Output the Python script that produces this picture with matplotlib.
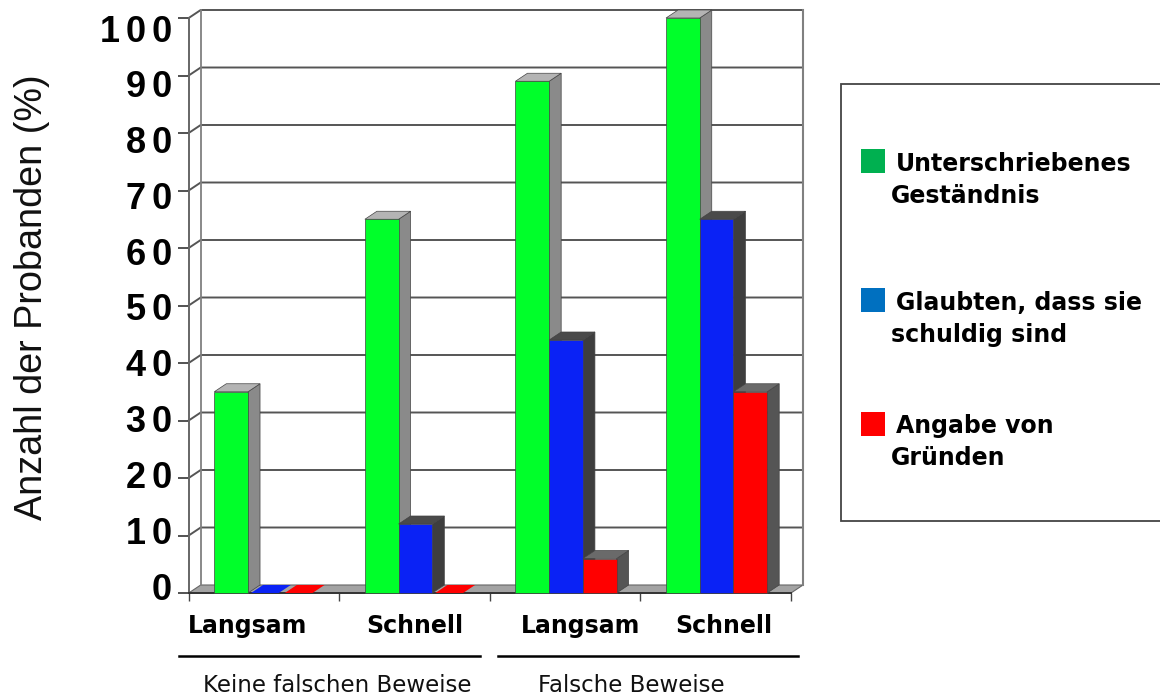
import matplotlib
matplotlib.use('Agg')
import matplotlib.pyplot as plt
from matplotlib.patches import Polygon, Rectangle
from matplotlib.lines import Line2D

# 数据
speed_labels = ['Langsam', 'Schnell', 'Langsam', 'Schnell']
group_labels = ['Keine falschen Beweise', 'Falsche Beweise']
y_ticks = [0, 10, 20, 30, 40, 50, 60, 70, 80, 90, 100]
gestaendnis = [35, 65, 89, 100]
schuldig = [0, 12, 44, 65]
gruende = [0, 0, 6, 35]
legend_labels = ['Unterschriebenes\nGeständnis', 'Glaubten, dass sie\nschuldig sind', 'Angabe von\nGründen']
legend_colors = ['#00b050', '#0070c0', '#ff0000']

W, H = 1160, 698
DX, DY = 12 / 150.5, 8 / 5.75   # 3D 深度 (数据单位)
BAR_W = 0.224
OFFSET = 0.17
LINE_C = '#666666'


def px(x, y):
    return x / W, 1 - y / H


def draw_bar(ax, x, h, front, top, side):
    w = BAR_W
    if h > 0:
        ax.add_patch(Polygon([(x + w, 0), (x + w + DX, DY), (x + w + DX, h + DY), (x + w, h)],
                             facecolor=side, edgecolor='#444444', lw=0.5, clip_on=False, zorder=3))
        ax.add_patch(Polygon([(x, h), (x + DX, h + DY), (x + w + DX, h + DY), (x + w, h)],
                             facecolor=top, edgecolor='#444444', lw=0.5, clip_on=False, zorder=3))
        ax.add_patch(Rectangle((x, 0), w, h, facecolor=front, edgecolor='#444444', lw=0.5,
                               clip_on=False, zorder=3))
    else:
        # 高度为0: 只画地面上的色块
        ax.add_patch(Polygon([(x + 0.02, 0), (x + 0.02 + DX, DY), (x + w - 0.02 + DX, DY), (x + w - 0.02, 0)],
                             facecolor=front, edgecolor='none', clip_on=False, zorder=3))


fig = plt.figure(figsize=(W / 100, H / 100), dpi=100)
ax = fig.add_axes([188.7 / W, 1 - 593 / H, (791 - 188.7) / W, (593 - 18) / H])
ax.set_xlim(0, 4)
ax.set_ylim(0, 100)
ax.patch.set_alpha(0)

for s in ['top', 'right']:
    ax.spines[s].set_visible(False)
ax.spines['left'].set_color(LINE_C)
ax.spines['left'].set_linewidth(1.4)
ax.spines['bottom'].set_color('#333333')
ax.spines['bottom'].set_linewidth(1.4)

ax.set_xticks(range(5))
ax.set_yticks(y_ticks)
ax.set_xticklabels([])
ax.set_yticklabels([])
ax.tick_params(axis='y', length=8, width=1.3, color='#444444')
ax.tick_params(axis='x', length=6, width=1.0, color='#444444')

# 背景墙和网格线
ax.add_patch(Polygon([(0, 0), (DX, DY), (4 + DX, DY), (4, 0)], facecolor='#a3a3a3',
                     edgecolor='#666666', lw=0.8, clip_on=False, zorder=1))
for v in y_ticks[1:]:
    ax.plot([0, DX, 4 + DX], [v, v + DY, v + DY], c='#555555', lw=1.4, clip_on=False, zorder=1)
ax.plot([DX, DX], [DY, 100 + DY], c='#808080', lw=1.3, clip_on=False, zorder=1)
ax.plot([4 + DX, 4 + DX], [DY, 100 + DY], c='#808080', lw=1.5, clip_on=False, zorder=1)

# 柱子
for i in range(4):
    x0 = i + OFFSET
    draw_bar(ax, x0, gestaendnis[i], '#00ff2a', '#b4b4b4', '#8a8a8a')
    draw_bar(ax, x0 + BAR_W, schuldig[i], '#0a22f5', '#4a4a4a', '#3e3e3e')
    draw_bar(ax, x0 + 2 * BAR_W, gruende[i], '#ff0000', '#6a6a6a', '#555555')

# y轴标签
for v in y_ticks:
    x, y = px(172, 590 - v * 5.58)
    fig.text(x, y, '\u200a\u200a'.join(str(v)), ha='right', va='center', fontsize=26, fontweight='bold',
             family=['Liberation Sans', 'DejaVu Sans'])
x, y = px(32, 297)
fig.text(x, y, 'Anzahl der Probanden (%)', rotation=90, ha='center', va='center', fontsize=27.2,
         family='Liberation Sans', color='#111111')

# x轴标签
for label, cx in zip(speed_labels, [248, 415, 581, 724]):
    x, y = px(cx, 626)
    fig.text(x, y, label, ha='center', va='center', fontsize=17, fontweight='bold')

for (x1, x2) in [(179, 480), (498, 798)]:
    fig.add_artist(Line2D([x1 / W, x2 / W], [1 - 656 / H, 1 - 656 / H], color='black', lw=1.8))
for label, cx in zip(group_labels, [337, 631]):
    x, y = px(cx, 686)
    fig.text(x, y, label, ha='center', va='center', fontsize=16.5, color='#111111')

# 图例
x, y = px(841, 521)
fig.add_artist(Rectangle((x, y), 340 / W, (521 - 84) / H, transform=fig.transFigure, facecolor='white',
                         edgecolor='#444444', lw=1.3, zorder=0))
for label, color, sy, ty in zip(legend_labels, legend_colors, [149, 288, 412], [164, 303, 426]):
    x, y = px(861, sy + 24)
    fig.add_artist(Rectangle((x, y), 24 / W, 24 / H, transform=fig.transFigure, facecolor=color, edgecolor='none'))
    first, second = label.split('\n')
    x, y = px(896, ty)
    fig.text(x, y, first, ha='left', va='center', fontsize=17, fontweight='bold')
    x, y = px(891, ty + 32)
    fig.text(x, y, second, ha='left', va='center', fontsize=17, fontweight='bold')

plt.savefig('out.png', dpi=100)
